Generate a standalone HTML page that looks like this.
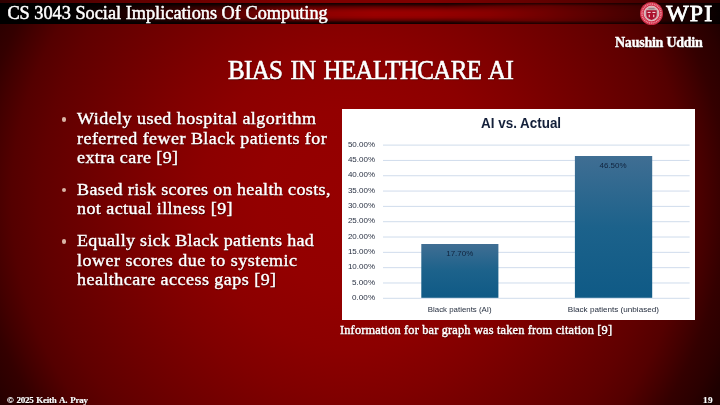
<!DOCTYPE html>
<html lang="en">
<head>
<meta charset="utf-8">
<title>Bias in Healthcare AI</title>
<style>
html,body{margin:0;padding:0;}
body{width:720px;height:405px;overflow:hidden;position:relative;
  font-family:"Liberation Serif",serif;color:#fff;background:#6e0000;}
#bg{position:absolute;left:0;top:0;width:720px;height:405px;
  background:radial-gradient(circle 413px at 350px 200px,#960000 0%,#930000 22%,#8c0000 36%,#800000 48%,#6c0000 65%,#600000 75%,#540000 82%,#430000 87%,#340000 91%,#2a0000 96%,#1e0000 100%);}
#topstrip{position:absolute;left:0;top:0;width:720px;height:3px;
  background:linear-gradient(to right,#2e0000 0%,#5c0000 15%,#800000 40%,#800000 60%,#500000 85%,#2a0000 100%);}
#bar{position:absolute;left:0;top:3px;width:720px;height:21px;
  background:linear-gradient(to right,#000 0%,#000 9%,#1c0000 17%,#380000 24%,#5a0000 32%,#8a0000 42%,#9a0000 52%,#960000 60%,#880000 68%,#720000 75%,#5a0000 82%,#420000 89%,#200000 94%,#080000 100%);}
#barv{position:absolute;left:0;top:3px;width:720px;height:21px;
  background:linear-gradient(to bottom,rgba(0,0,0,.7) 0%,rgba(0,0,0,.6) 10%,rgba(0,0,0,.3) 22%,rgba(0,0,0,.08) 34%,rgba(0,0,0,0) 45%,rgba(0,0,0,0) 60%,rgba(0,0,0,.08) 70%,rgba(0,0,0,.3) 80%,rgba(0,0,0,.6) 91%,rgba(0,0,0,.72) 100%);
  -webkit-mask-image:linear-gradient(to right,#000 0%,#000 62%,rgba(0,0,0,.25) 76%,rgba(0,0,0,.1) 100%);mask-image:linear-gradient(to right,#000 0%,#000 62%,rgba(0,0,0,.25) 76%,rgba(0,0,0,.1) 100%);}
#bare{position:absolute;left:0;top:3px;width:720px;height:21px;
  background:linear-gradient(to bottom,rgba(0,0,0,.62) 0%,rgba(0,0,0,.3) 7%,rgba(0,0,0,0) 14%,rgba(0,0,0,0) 84%,rgba(0,0,0,.35) 92%,rgba(0,0,0,.72) 100%);}
.t{position:absolute;white-space:nowrap;line-height:1;transform-origin:0 50%;
  text-shadow:0.5px 0.5px 1px rgba(0,0,0,.6);-webkit-text-stroke:0.4px #fff;}
.dot{position:absolute;width:4.4px;height:4.4px;border-radius:50%;background:#d9b5a6;left:61.6px;}
#chart{position:absolute;left:342px;top:109px;width:353px;height:211px;background:#fff;}
#chart svg{position:absolute;left:0;top:0;}
#seal{position:absolute;left:638px;top:0;}
</style>
</head>
<body>
<div id="bg"></div>
<div id="topstrip"></div>
<div id="bar"></div>
<div id="barv"></div>
<div id="bare"></div>
<svg id="seal" width="28" height="28" viewBox="638 0 28 28">
<circle cx="651.5" cy="13.5" r="11.5" fill="#d02d46"/>
<circle cx="651.5" cy="13.5" r="9.5" fill="none" stroke="#ec8b9a" stroke-width="1.7" stroke-dasharray="1.1 0.7"/>
<circle cx="651.5" cy="13.5" r="7.4" fill="#cbaeb1" stroke="#f2c6cb" stroke-width="0.8"/>
<path d="M646.3 10.3 H656.7 V15 Q656.7 18.4 651.5 20 Q646.3 18.4 646.3 15 Z" fill="#ab0f2c"/>
<rect x="647.6" y="11.9" width="3" height="1.1" fill="#f1d9dc"/><rect x="652.4" y="11.9" width="3" height="1.1" fill="#f1d9dc"/>
<rect x="648.7" y="14.6" width="1.1" height="2.6" fill="#f1d9dc"/><rect x="653.2" y="14.6" width="1.1" height="2.6" fill="#f1d9dc"/>
<rect x="648.4" y="8.2" width="6.2" height="1.1" fill="#8d7a7e"/>
</svg>
<div class="dot" style="top:117.2px"></div>
<div class="dot" style="top:188.0px"></div>
<div class="dot" style="top:239.3px"></div>
<div id="chart">
<svg width="353" height="211" viewBox="342 109 353 211" font-family="Liberation Sans, sans-serif">
<defs><linearGradient id="bg1" x1="0" y1="0" x2="0" y2="1"><stop offset="0" stop-color="#406e93"/><stop offset="0.5" stop-color="#1c628b"/><stop offset="1" stop-color="#0f5a86"/></linearGradient></defs>
<rect x="342" y="109" width="353" height="211" fill="#ffffff"/>
<rect x="383" y="297.80" width="306.6" height="1" fill="#d0dcec"/>
<rect x="383" y="282.48" width="306.6" height="1" fill="#d0dcec"/>
<rect x="383" y="267.16" width="306.6" height="1" fill="#d0dcec"/>
<rect x="383" y="251.84" width="306.6" height="1" fill="#d0dcec"/>
<rect x="383" y="236.52" width="306.6" height="1" fill="#d0dcec"/>
<rect x="383" y="221.20" width="306.6" height="1" fill="#d0dcec"/>
<rect x="383" y="205.88" width="306.6" height="1" fill="#d0dcec"/>
<rect x="383" y="190.56" width="306.6" height="1" fill="#d0dcec"/>
<rect x="383" y="175.24" width="306.6" height="1" fill="#d0dcec"/>
<rect x="383" y="159.92" width="306.6" height="1" fill="#d0dcec"/>
<rect x="383" y="144.60" width="306.6" height="1" fill="#d0dcec"/>
<text x="352.1" y="299.90" font-size="7.8" fill="#2a3244" textLength="23.0" lengthAdjust="spacingAndGlyphs">0.00%</text>
<text x="352.1" y="284.58" font-size="7.8" fill="#2a3244" textLength="23.0" lengthAdjust="spacingAndGlyphs">5.00%</text>
<text x="347.9" y="269.26" font-size="7.8" fill="#2a3244" textLength="27.2" lengthAdjust="spacingAndGlyphs">10.00%</text>
<text x="347.9" y="253.94" font-size="7.8" fill="#2a3244" textLength="27.2" lengthAdjust="spacingAndGlyphs">15.00%</text>
<text x="347.9" y="238.62" font-size="7.8" fill="#2a3244" textLength="27.2" lengthAdjust="spacingAndGlyphs">20.00%</text>
<text x="347.9" y="223.30" font-size="7.8" fill="#2a3244" textLength="27.2" lengthAdjust="spacingAndGlyphs">25.00%</text>
<text x="347.9" y="207.98" font-size="7.8" fill="#2a3244" textLength="27.2" lengthAdjust="spacingAndGlyphs">30.00%</text>
<text x="347.9" y="192.66" font-size="7.8" fill="#2a3244" textLength="27.2" lengthAdjust="spacingAndGlyphs">35.00%</text>
<text x="347.9" y="177.34" font-size="7.8" fill="#2a3244" textLength="27.2" lengthAdjust="spacingAndGlyphs">40.00%</text>
<text x="347.9" y="162.02" font-size="7.8" fill="#2a3244" textLength="27.2" lengthAdjust="spacingAndGlyphs">45.00%</text>
<text x="347.9" y="146.70" font-size="7.8" fill="#2a3244" textLength="27.2" lengthAdjust="spacingAndGlyphs">50.00%</text>
<rect x="421.3" y="244" width="77.1" height="53.8" fill="url(#bg1)"/>
<rect x="574.9" y="156" width="77.3" height="141.8" fill="url(#bg1)"/>
<text x="446.2" y="256.2" font-size="8" fill="#10233d" textLength="27.1" lengthAdjust="spacingAndGlyphs">17.70%</text>
<text x="599.5" y="168.4" font-size="8" fill="#10233d" textLength="27.1" lengthAdjust="spacingAndGlyphs">46.50%</text>
<text x="427.8" y="312.2" font-size="7.9" fill="#1f2839" textLength="63.8" lengthAdjust="spacingAndGlyphs">Black patients (AI)</text>
<text x="567.8" y="312.2" font-size="7.9" fill="#1f2839" textLength="91.2" lengthAdjust="spacingAndGlyphs">Black patients (unbiased)</text>
<text x="481.1" y="127.9" font-size="14" font-weight="bold" fill="#14203a" textLength="80" lengthAdjust="spacingAndGlyphs">AI vs. Actual</text>
</svg>
</div>
<div class="t" id="hdr" style="left:7.40px;top:3.71px;font-size:18.3px;letter-spacing:-0.003px;-webkit-text-stroke:0.5px #fff;">CS 3043 Social Implications Of Computing</div>
<div class="t" id="name" style="left:615.00px;top:35.98px;font-size:14px;letter-spacing:-0.239px;font-weight:bold;">Naushin Uddin</div>
<div class="t" id="title" style="left:228.40px;top:56.82px;font-size:26.6px;letter-spacing:-0.689px;transform:scaleX(0.94);-webkit-text-stroke:0.6px #fff;word-spacing:2.6px;">BIAS IN HEALTHCARE AI</div>
<div class="t" id="l1" style="left:76.90px;top:110.39px;font-size:17.0px;letter-spacing:0.426px;transform:scaleX(1.06);">Widely used hospital algorithm</div>
<div class="t" id="l2" style="left:76.90px;top:129.59px;font-size:17.0px;letter-spacing:0.432px;transform:scaleX(1.06);">referred fewer Black patients for</div>
<div class="t" id="l3" style="left:76.90px;top:148.69px;font-size:17.0px;letter-spacing:0.367px;transform:scaleX(1.06);">extra care [9]</div>
<div class="t" id="l4" style="left:76.90px;top:181.19px;font-size:17.0px;letter-spacing:0.351px;transform:scaleX(1.06);">Based risk scores on health costs,</div>
<div class="t" id="l5" style="left:76.90px;top:200.29px;font-size:17.0px;letter-spacing:0.403px;transform:scaleX(1.06);">not actual illness [9]</div>
<div class="t" id="l6" style="left:76.90px;top:232.49px;font-size:17.0px;letter-spacing:0.303px;transform:scaleX(1.06);">Equally sick Black patients had</div>
<div class="t" id="l7" style="left:76.90px;top:251.59px;font-size:17.0px;letter-spacing:0.451px;transform:scaleX(1.06);">lower scores due to systemic</div>
<div class="t" id="l8" style="left:76.90px;top:270.59px;font-size:17.0px;letter-spacing:0.434px;transform:scaleX(1.06);">healthcare access gaps [9]</div>
<div class="t" id="cap" style="left:339.90px;top:323.74px;font-size:12px;letter-spacing:0.157px;transform:scaleX(1.03);">Information for bar graph was taken from citation [9]</div>
<div class="t" id="foot" style="left:7.00px;top:395.93px;font-size:9px;letter-spacing:-0.241px;font-weight:bold;word-spacing:0.9px;-webkit-text-stroke:0.15px #fff;">© 2025 Keith A. Pray</div>
<div class="t" id="pg" style="left:703.00px;top:395.66px;font-size:9.2px;letter-spacing:0.312px;font-weight:bold;-webkit-text-stroke:0.15px #fff;">19</div>
<div class="t" id="wpi" style="left:666.20px;top:1.85px;font-size:23.8px;letter-spacing:1.188px;text-shadow:1px 1px 1px #000;-webkit-text-stroke:0.85px #fff;">WPI</div>
</body>
</html>
